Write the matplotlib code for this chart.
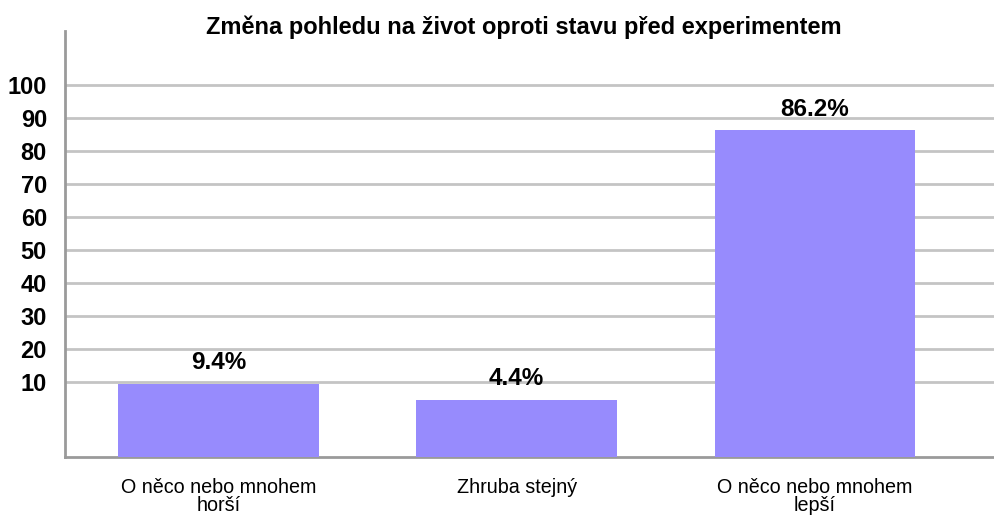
import numpy as np
import matplotlib
matplotlib.use("Agg")
import matplotlib.pyplot as plt

# data
categories = ["O něco nebo mnohem\nhorší", "Zhruba stejný", "O něco nebo mnohem\nlepší"]
values = [9.4, 4.4, 86.2]
value_labels = ["9.4%", "4.4%", "86.2%"]
yticks = [10, 20, 30, 40, 50, 60, 70, 80, 90, 100]

plt.rcParams["font.family"] = ["Liberation Sans", "DejaVu Sans"]

fig = plt.figure(figsize=(9.94, 5.15), dpi=100)
ax = fig.add_axes([0.0654, 0.112, 0.9346, 0.828])

ymin, ymax = -12.9, 116.3
x = np.arange(len(categories))
vals = np.array(values)
ax.bar(x, vals - ymin, bottom=ymin, width=0.673, color="#978BFD", zorder=3)

for xi, v, lab in zip(x, vals, value_labels):
    ax.annotate(lab, (xi, v), xytext=(0, 7), textcoords="offset points",
                ha="center", va="bottom", fontsize=17.5, fontweight="bold")

ax.set_xlim(-0.514, 2.6)
ax.set_ylim(ymin, ymax)
ax.set_yticks(yticks)
ax.set_yticklabels([str(t) for t in yticks], fontsize=17, fontweight="bold")
ax.set_xticks(x)
ax.set_xticklabels(categories, fontsize=14.2, linespacing=0.95)
ax.tick_params(axis="y", length=0, pad=13)
ax.tick_params(axis="x", length=0, pad=15)

ax.yaxis.grid(True, color="#C4C4C4", linewidth=2, zorder=0)
ax.set_axisbelow(True)
for s in ["top", "right"]:
    ax.spines[s].set_visible(False)
for s in ["left", "bottom"]:
    ax.spines[s].set_color("#9A9A9A")
    ax.spines[s].set_linewidth(2)

fig.text(0.527, 0.947, "Změna pohledu na život oproti stavu před experimentem",
         ha="center", va="center", fontsize=17, fontweight="bold")

fig.savefig("out.png", dpi=100)
